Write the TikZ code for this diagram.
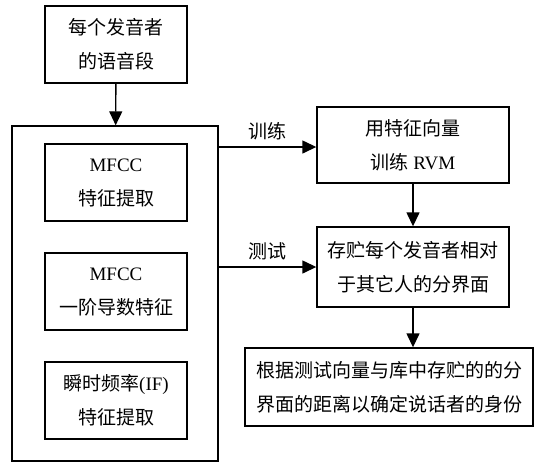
\documentclass[tikz,border=0pt]{standalone}
\usepackage{fontspec}
\usepackage{tikz}
\usetikzlibrary{arrows.meta}
\setmainfont{Liberation Serif}
\newfontfamily\cjk{Noto Sans CJK SC}

\tikzset{
  blk/.style={draw, line width=1.4pt, align=center, inner sep=0pt,
    font=\fontsize{19}{34}\selectfont},
  arr/.style={line width=1.4pt, -{Triangle[width=13pt,length=14pt]}},
  lbl/.style={font=\cjk\fontsize{19}{20}\selectfont}
}

\begin{document}
\begin{tikzpicture}[x=1pt, y=-1pt]
	    \useasboundingbox (0,0) rectangle (534,464);

	    % left column
	    \node [blk, minimum width=142pt, minimum height=77pt] (input) at (116,44.5)
	        {{\cjk 每个发音者}\\{\cjk 的语音段}};
	    \node [draw, line width=1.4pt, minimum width=206pt, minimum height=335pt] (feat) at (115,293.5) {};
	    \node [blk, minimum width=142pt, minimum height=77pt] (mfcc) at (116,182.5)
	        {MFCC\\{\cjk 特征提取}};
	    \node [blk, minimum width=142pt, minimum height=77pt] (dmfcc) at (116,291.5)
	        {MFCC\\{\cjk 一阶导数特征}};
	    \node [blk, minimum width=142pt, minimum height=77pt] (ifreq) at (116,400.5)
	        {{\cjk 瞬时频率}(IF)\\{\cjk 特征提取}};

	    % right column
	    \node [blk, minimum width=192pt, minimum height=76pt] (rvm) at (413,145)
	        {{\cjk 用特征向量}\\{\cjk 训练} RVM};
	    \node [blk, minimum width=192pt, minimum height=80pt] (store) at (413,267)
	        {{\cjk 存贮每个发音者相对}\\{\cjk 于其它人的分界面}};
	    \node [blk, minimum width=288pt, minimum height=78pt] (decide) at (389,387)
	        {{\cjk 根据测试向量与库中存贮的的分}\\{\cjk 界面的距离以确定说话者的身份}};

	    \draw [arr] (input) -- (feat);
	    \draw [arr] (feat.east |- 0,147) coordinate (t0) -- (rvm.west |- t0)
	        node [lbl, midway, above=3pt] {训练};
	    \draw [arr] (feat.east |- store.west) -- (store.west)
	        node [lbl, midway, above=3pt] {测试};
	    \draw [arr] (rvm) -- (store);
	    \draw [arr] (store.south) -- (store.south |- decide.north);

	\end{tikzpicture}
\end{document}
